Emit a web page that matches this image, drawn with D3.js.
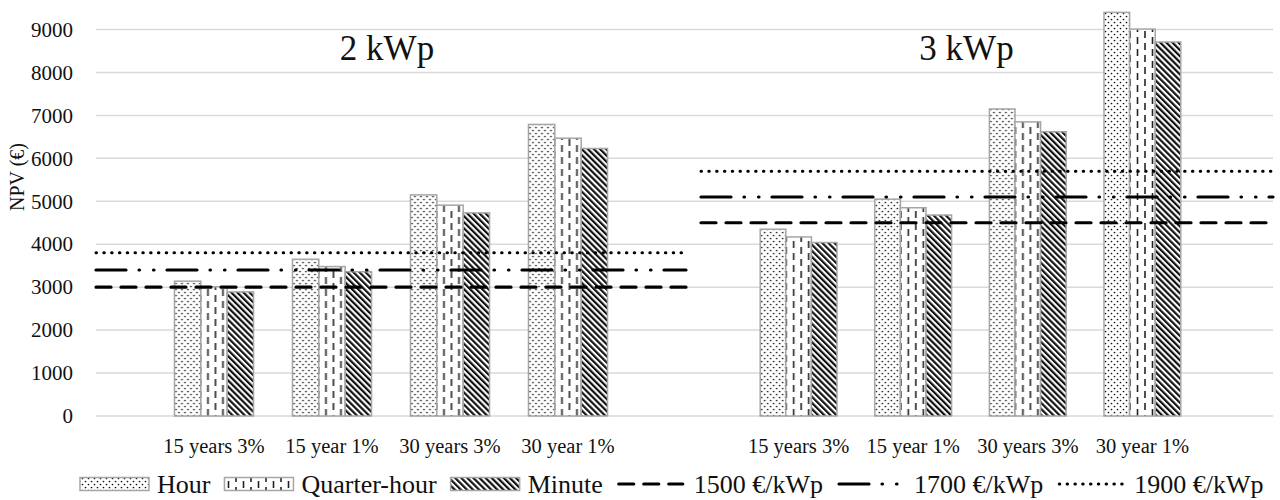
<!DOCTYPE html>
<html>
<head>
<meta charset="utf-8">
<script src="https://cdn.jsdelivr.net/npm/d3@7"></script>
<style>
  body { margin: 0; background: #fff; }
  svg { display: block; font-family: 'Times New Roman', 'Liberation Serif', serif; }
</style>
</head>
<body>
<div id="chart"></div>
<script>
// data
const categories = ['15 years 3%', '15 year 1%', '30 years 3%', '30 year 1%']
const series = ['Hour', 'Quarter-hour', 'Minute']
const panels = ['2 kWp', '3 kWp']
const hour2kWp = [3140, 3650, 5150, 6790]
const quarter2kWp = [3010, 3480, 4910, 6470]
const minute2kWp = [2890, 3360, 4730, 6230]
const hour3kWp = [4350, 5050, 7150, 9400]
const quarter3kWp = [4170, 4850, 6850, 9010]
const minute3kWp = [4040, 4680, 6620, 8710]
const priceLabels = ['1500 €/kWp', '1700 €/kWp', '1900 €/kWp']
const limits2kWp = [3000, 3400, 3800]
const limits3kWp = [4500, 5100, 5700]
const yTicks = [0, 1000, 2000, 3000, 4000, 5000, 6000, 7000, 8000, 9000]

const width = 1280
const height = 500
const plotLeft = 96
const plotRight = 1273
const serif = "'Times New Roman', 'Liberation Serif', serif"

const svg = d3.select('#chart')
  .append('svg')
  .attr('width', width)
  .attr('height', height)

// fill patterns
const defs = svg.append('defs')

const dots = defs.append('pattern')
  .attr('id', 'pat-hour')
  .attr('patternUnits', 'userSpaceOnUse')
  .attr('width', 6)
  .attr('height', 6)
dots.append('rect').attr('width', 6).attr('height', 6).attr('fill', '#fff')
dots.append('circle').attr('cx', 1.5).attr('cy', 1.5).attr('r', 0.85).attr('fill', '#111')
dots.append('circle').attr('cx', 4.5).attr('cy', 4.5).attr('r', 0.85).attr('fill', '#111')

const dashes = defs.append('pattern')
  .attr('id', 'pat-quarter')
  .attr('patternUnits', 'userSpaceOnUse')
  .attr('width', 15)
  .attr('height', 12)
dashes.append('rect').attr('width', 15).attr('height', 12).attr('fill', '#fff')
dashes.append('line').attr('x1', 3.5).attr('x2', 3.5).attr('y1', 1).attr('y2', 8)
dashes.append('line').attr('x1', 11).attr('x2', 11).attr('y1', 7).attr('y2', 12)
dashes.append('line').attr('x1', 11).attr('x2', 11).attr('y1', 0).attr('y2', 2)
dashes.selectAll('line').attr('stroke', '#222').attr('stroke-width', 1.6)

const stripes = defs.append('pattern')
  .attr('id', 'pat-minute')
  .attr('patternUnits', 'userSpaceOnUse')
  .attr('width', 4.3)
  .attr('height', 4.3)
  .attr('patternTransform', 'rotate(-45)')
stripes.append('rect').attr('width', 4.3).attr('height', 4.3).attr('fill', '#fff')
stripes.append('rect').attr('width', 2.2).attr('height', 4.3).attr('fill', '#111')

const fills = d3.scaleOrdinal(series, ['url(#pat-hour)', 'url(#pat-quarter)', 'url(#pat-minute)'])
const dashStyles = d3.scaleOrdinal(priceLabels, ['15 10', '30 13 0.5 14 0.5 13', '0.5 7.3'])
const lineWidths = d3.scaleOrdinal(priceLabels, [3.2, 3.2, 3])

// scales
const y = d3.scaleLinear()
  .domain([0, 10000])
  .range([416, -13.4])

const xLeft = d3.scaleBand()
  .domain(categories)
  .range([plotLeft, 686])
  .paddingInner(0.33)
  .paddingOuter(0.665)

const xRight = d3.scaleBand()
  .domain(categories)
  .range([684, 1257])
  .paddingInner(0.33)
  .paddingOuter(0.665)

// gridlines
svg.append('g')
  .attr('class', 'grid')
  .selectAll('line')
  .data(yTicks)
  .join('line')
  .attr('x1', plotLeft)
  .attr('x2', plotRight)
  .attr('y1', d => y(d))
  .attr('y2', d => y(d))
  .attr('stroke', '#d9d9d9')
  .attr('stroke-width', 1.5)

// y axis labels
const yAxis = d3.axisLeft(y)
  .tickValues(yTicks)
  .tickFormat(d3.format('d'))
  .tickSize(0)
  .tickPadding(0)

svg.append('g')
  .attr('class', 'y-axis')
  .attr('transform', 'translate(73, 0)')
  .call(yAxis)
  .attr('font-family', serif)
  .attr('font-size', 21)
  .call(g => g.select('.domain').remove())
  .call(g => g.selectAll('text').attr('fill', '#111'))

svg.append('text')
  .attr('transform', 'translate(24, 177) rotate(-90)')
  .attr('text-anchor', 'middle')
  .attr('font-size', 20)
  .attr('fill', '#111')
  .text('NPV (€)')

// one panel per system size
const panelData = [
  { title: panels[0], x: xLeft, values: [hour2kWp, quarter2kWp, minute2kWp], limits: limits2kWp,
    span: [plotLeft, xLeft.range()[1]] },
  { title: panels[1], x: xRight, values: [hour3kWp, quarter3kWp, minute3kWp], limits: limits3kWp,
    span: [xLeft.range()[1] + 15, plotRight] }
]

panelData.forEach(panel => {
  const xSeries = d3.scaleBand()
    .domain(series)
    .range([0, panel.x.bandwidth()])

  const g = svg.append('g').attr('class', 'panel')

  // bars
  g.append('g')
    .selectAll('g')
    .data(categories)
    .join('g')
    .attr('transform', d => `translate(${panel.x(d)}, 0)`)
    .selectAll('rect')
    .data((c, ci) => series.map((s, si) => ({ series: s, value: panel.values[si][ci] })))
    .join('rect')
    .attr('x', d => xSeries(d.series))
    .attr('width', xSeries.bandwidth())
    .attr('y', d => y(d.value))
    .attr('height', d => y(0) - y(d.value))
    .attr('fill', d => fills(d.series))
    .attr('stroke', '#a6a6a6')
    .attr('stroke-width', 1.5)

  // cost threshold lines
  g.append('g')
    .selectAll('line')
    .data(panel.limits.map((v, i) => ({ label: priceLabels[i], value: v })))
    .join('line')
    .attr('x1', panel.span[0])
    .attr('x2', panel.span[1])
    .attr('y1', d => y(d.value))
    .attr('y2', d => y(d.value))
    .attr('stroke', '#000')
    .attr('stroke-width', d => lineWidths(d.label))
    .attr('stroke-dasharray', d => dashStyles(d.label))
    .attr('stroke-linecap', 'round')

  // category labels
  const xAxis = d3.axisBottom(panel.x).tickSize(0).tickPadding(0)
  g.append('g')
    .attr('transform', 'translate(0, 438)')
    .call(xAxis)
    .attr('font-family', serif)
    .attr('font-size', 20.5)
    .call(a => a.select('.domain').remove())
    .call(a => a.selectAll('text').attr('fill', '#111'))

  // panel title
  const r = panel.x.range()
  g.append('text')
    .attr('x', (r[0] + r[1]) / 2 - 4)
    .attr('y', 60)
    .attr('text-anchor', 'middle')
    .attr('font-size', 35)
    .attr('fill', '#111')
    .text(panel.title)
})

// legend
const legendItems = series.map(s => ({ label: s, kind: 'bar' }))
  .concat(priceLabels.map(p => ({ label: p, kind: 'line' })))

const legend = svg.append('g').attr('class', 'legend')
let lx = 80
legendItems.forEach(item => {
  const it = legend.append('g')
  let w, gap
  if (item.kind === 'bar') {
    w = 69
    gap = 8
    it.append('rect')
      .attr('x', lx)
      .attr('y', 477.5)
      .attr('width', w)
      .attr('height', 13)
      .attr('fill', fills(item.label))
      .attr('stroke', '#a6a6a6')
      .attr('stroke-width', 1.5)
  } else {
    w = 66
    gap = 11
    it.append('line')
      .attr('x1', lx + 2)
      .attr('x2', lx + w)
      .attr('y1', 484)
      .attr('y2', 484)
      .attr('stroke', '#000')
      .attr('stroke-width', lineWidths(item.label))
      .attr('stroke-dasharray', dashStyles(item.label))
      .attr('stroke-linecap', 'round')
  }
  const t = it.append('text')
    .attr('x', lx + w + gap)
    .attr('y', 493)
    .attr('font-size', 26)
    .attr('fill', '#111')
    .text(item.label)
  lx += w + gap + t.node().getComputedTextLength() + 14
})
</script>
</body>
</html>
